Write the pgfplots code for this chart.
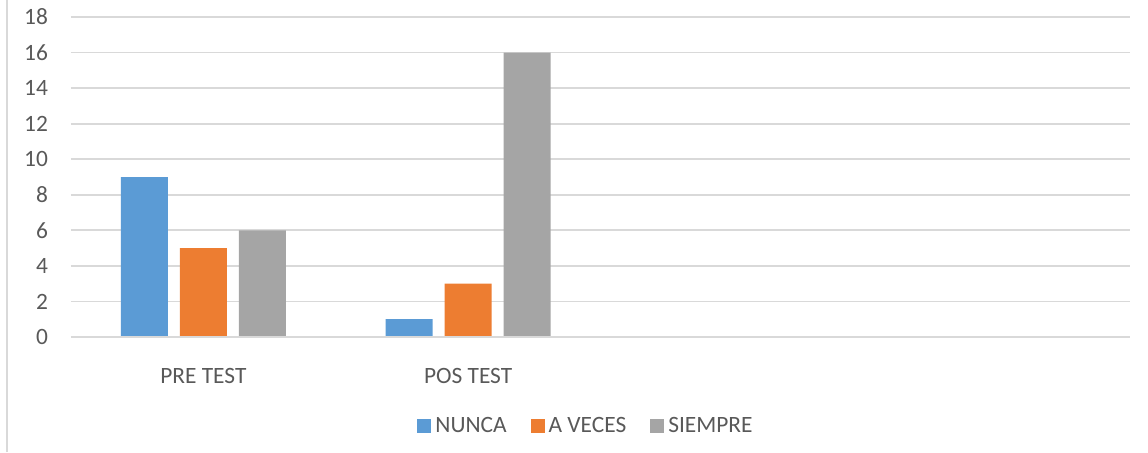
\documentclass[border=0pt]{standalone}
\usepackage{pgfplots}
\pgfplotsset{compat=1.18}
\usepackage{fontspec}
\setmainfont{Carlito}
\definecolor{cblue}{HTML}{5B9BD5}
\definecolor{corange}{HTML}{ED7D31}
\definecolor{cgray}{HTML}{A5A5A5}
\definecolor{gridc}{HTML}{D9D9D9}
\definecolor{txt}{HTML}{595959}
\begin{document}
\begin{tikzpicture}
\useasboundingbox (0,0) rectangle (574pt,226pt);
\draw[gridc, line width=0.8pt] (3.5pt,0) -- (3.5pt,226pt);
\begin{axis}[
  at={(35.5pt,57.5pt)}, anchor=south west,
  scale only axis, width=529.5pt, height=160pt,
  ybar=6pt, bar width=23.5pt,
  xmin=-0.5, xmax=3.5, ymin=0, ymax=18,
  xtick={0,1,2,3}, xticklabels={PRE TEST,POS TEST,,},
  ytick={0,2,...,18},
  ymajorgrids, grid style={gridc, line width=0.9pt},
  axis line style={draw=none},
  axis x line*=bottom,
  major tick length=0pt,
  tick style={draw=none},
  font=\fontsize{11.7}{14}\selectfont,
  tick label style={text=txt},
  /pgf/number format/assume math mode=true,
  yticklabel style={xshift=-8pt},
  xticklabel style={yshift=-12pt},
  legend style={at={(258pt,-44.5pt)}, anchor=center, draw=none, fill=none,
    legend columns=-1, text=txt, font=\fontsize{11.7}{14}\selectfont,
    /tikz/every even column/.append style={column sep=10pt}},
  legend image code/.code={\fill[#1] (0pt,-3.5pt) rectangle (7pt,3.5pt);},
]
\addplot[fill=cblue, draw=none] coordinates {(0,9) (1,1)};
\addplot[fill=corange, draw=none] coordinates {(0,5) (1,3)};
\addplot[fill=cgray, draw=none] coordinates {(0,6) (1,16)};
\draw[gridc, line width=0.9pt] (axis cs:-0.5,0) -- (axis cs:3.5,0);
\legend{NUNCA, A VECES, SIEMPRE}
\end{axis}
\end{tikzpicture}
\end{document}
